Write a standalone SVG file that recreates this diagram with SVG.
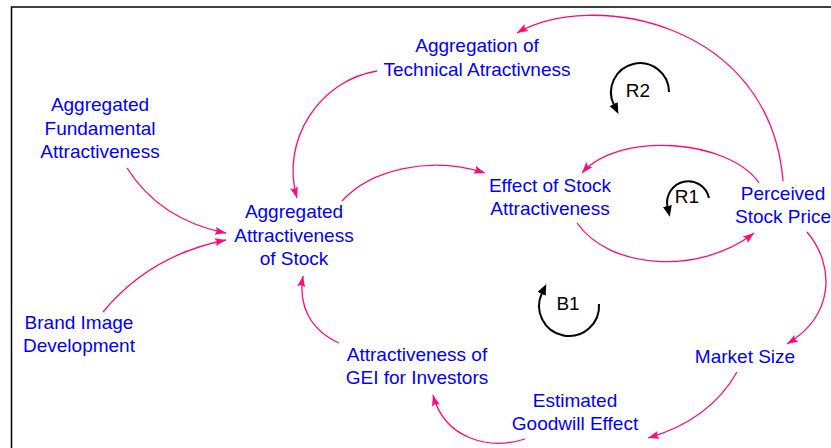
<svg xmlns="http://www.w3.org/2000/svg" width="831" height="448" viewBox="0 0 831 448">
  <style>
    .lbl { font-family: "Liberation Sans", Arial, sans-serif; font-size: 19px; fill: #0000ff; text-anchor: middle; }
    .loop-lbl { font-family: "Liberation Sans", Arial, sans-serif; font-size: 19px; fill: #000000; text-anchor: middle; }
    .link { fill: none; stroke: #ff0a78; stroke-width: 1.3; marker-end: url(#pinkHead); }
    .loop { fill: none; stroke: #000000; stroke-width: 2; marker-end: url(#blackHead); }
  </style>
  <defs>
    <marker id="pinkHead" markerUnits="userSpaceOnUse" markerWidth="12" markerHeight="9" refX="11" refY="4" orient="auto">
      <path d="M0,0 L11,4 L0,8 L2,4 z" fill="#ff0a78"/>
    </marker>
    <marker id="blackHead" markerUnits="userSpaceOnUse" markerWidth="12" markerHeight="10" refX="1" refY="4.5" orient="auto">
      <path d="M0,0 L11,4.5 L0,9 z" fill="#000000"/>
    </marker>
  </defs>

  <rect width="831" height="448" fill="#ffffff"/>
  <!-- frame (open to the right and bottom) -->
  <rect x="11.5" y="7" width="900" height="500" fill="none" stroke="#000000" stroke-width="1.5"/>

  <g id="connectors">
    <path class="link" d="M783,181 C770,20 590,-10 517,33"/>
    <path class="link" d="M377,71 C320,80 280,140 297,198"/>
    <path class="link" d="M127,168 Q160,220 226,233"/>
    <path class="link" d="M103,312 Q150,255 226,240"/>
    <path class="link" d="M342,201 C370,170 430,155 485,173"/>
    <path class="link" d="M759,183 C730,140 620,130 582,173"/>
    <path class="link" d="M577,223 C610,270 700,275 754,233"/>
    <path class="link" d="M807,232 C835,265 835,315 787,344"/>
    <path class="link" d="M737,372 Q710,420 648,438"/>
    <path class="link" d="M525,439 C490,450 445,440 433,395"/>
    <path class="link" d="M339,343 C310,330 298,305 303,276"/>
  </g>

  <g id="loop-R2">
    <path class="loop" d="M669,92 A29,29 0 1 0 614,105"/>
    <text class="loop-lbl" x="638" y="97">R2</text>
  </g>
  <g id="loop-R1">
    <path class="loop" d="M709,198 A21,21 0 1 0 667.6,207"/>
    <text class="loop-lbl" x="687" y="203">R1</text>
  </g>
  <g id="loop-B1">
    <path class="loop" d="M599,304 A30,30 0 1 1 542,293"/>
    <text class="loop-lbl" x="568" y="310">B1</text>
  </g>

  <g id="aggregation-technical">
    <text class="lbl" x="477" y="52">Aggregation of</text>
    <text class="lbl" x="477" y="76">Technical Atractivness</text>
  </g>
  <g id="aggregated-fundamental">
    <text class="lbl" x="100" y="111">Aggregated</text>
    <text class="lbl" x="100" y="135">Fundamental</text>
    <text class="lbl" x="100" y="158">Attractiveness</text>
  </g>
  <g id="aggregated-attractiveness">
    <text class="lbl" x="294" y="218">Aggregated</text>
    <text class="lbl" x="294" y="242">Attractiveness</text>
    <text class="lbl" x="294" y="265">of Stock</text>
  </g>
  <g id="effect-stock-attractiveness">
    <text class="lbl" x="550" y="192">Effect of Stock</text>
    <text class="lbl" x="550" y="215">Attractiveness</text>
  </g>
  <g id="perceived-stock-price">
    <text class="lbl" x="783" y="200">Perceived</text>
    <text class="lbl" x="783" y="223">Stock Price</text>
  </g>
  <g id="brand-image">
    <text class="lbl" x="79" y="329">Brand Image</text>
    <text class="lbl" x="79" y="352">Development</text>
  </g>
  <g id="gei-attractiveness">
    <text class="lbl" x="417" y="361">Attractiveness of</text>
    <text class="lbl" x="417" y="384">GEI for Investors</text>
  </g>
  <g id="market-size">
    <text class="lbl" x="745" y="363">Market Size</text>
  </g>
  <g id="goodwill-effect">
    <text class="lbl" x="575" y="407">Estimated</text>
    <text class="lbl" x="575" y="430">Goodwill Effect</text>
  </g>
</svg>
